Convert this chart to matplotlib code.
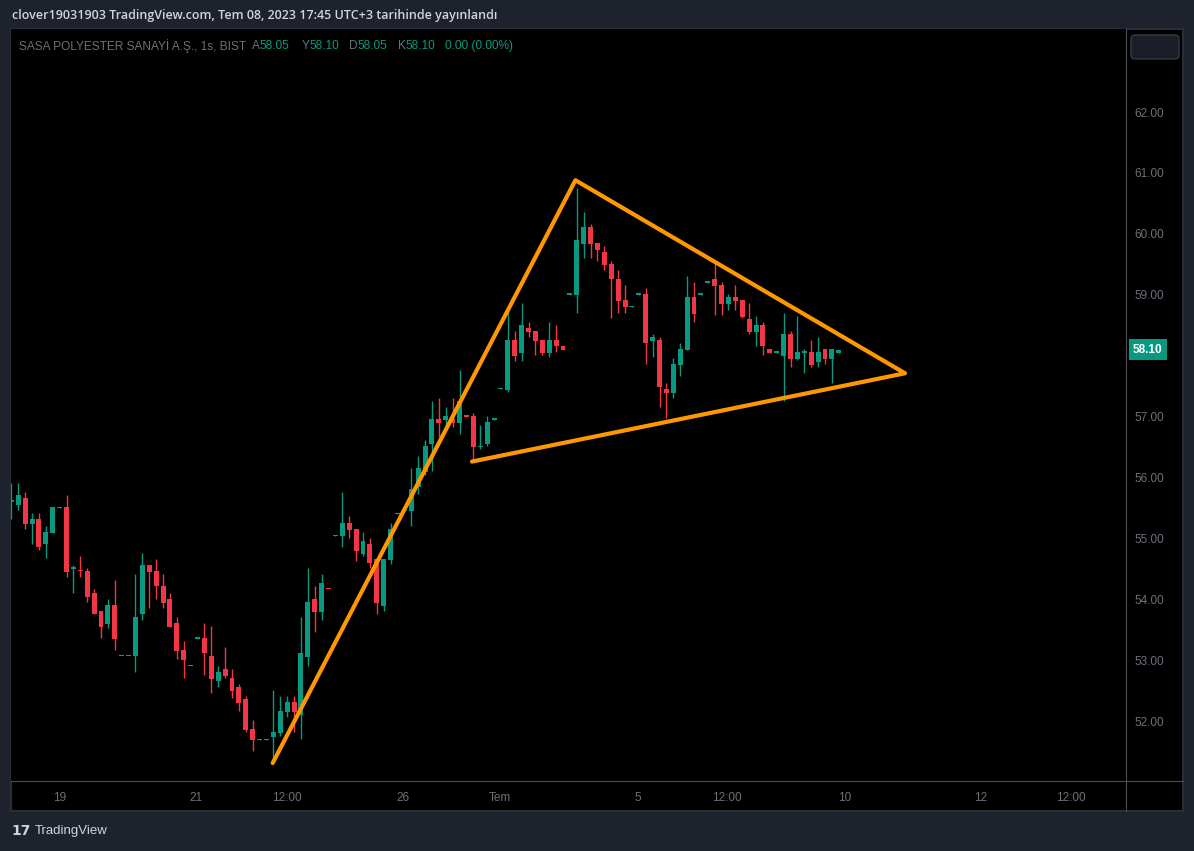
import matplotlib.pyplot as plt
import numpy as np
from matplotlib.patches import Rectangle, FancyBboxPatch
from matplotlib.lines import Line2D

# SASA hourly bars (BIST)
opens = [55.60, 55.55, 55.66, 55.24, 55.32, 54.90, 55.09, 55.50, 55.51, 54.50,
         54.47, 54.46, 54.10, 53.81, 53.60, 53.90, 53.07, 53.06, 53.06, 53.75,
         54.56, 54.46, 54.22, 54.00, 53.61, 53.17, 52.91, 53.35, 53.36, 53.07,
         52.65, 52.85, 52.71, 52.56, 52.36, 51.87, 51.69, 51.69, 51.74, 51.80,
         52.15, 52.31, 52.10, 53.05, 54.00, 53.79, 54.17, 55.04, 55.04, 55.25,
         55.15, 54.75, 54.91, 54.66, 53.89, 54.64, 55.40, 55.45, 55.45, 55.85,
         56.09, 56.55, 56.96, 56.95, 56.96, 56.90, 57.01, 57.01, 56.50, 56.55,
         56.95, 57.45, 57.44, 58.26, 58.05, 58.45, 58.40, 58.26, 58.05, 58.26,
         58.16, 59.00, 59.00, 59.84, 60.11, 59.85, 59.70, 59.50, 59.26, 58.91,
         58.80, 59.00, 59.01, 58.24, 58.26, 57.45, 57.39, 57.85, 58.10, 58.96,
         59.00, 59.20, 59.26, 59.16, 58.85, 58.96, 58.91, 58.60, 58.39, 58.50,
         58.11, 58.05, 58.00, 58.35, 57.95, 58.05, 58.06, 57.90, 58.11, 57.95,
         58.05]
highs = [55.91, 55.91, 55.76, 55.42, 55.42, 55.20, 55.51, 55.51, 55.71, 54.56,
         54.71, 54.51, 54.17, 53.81, 54.00, 54.32, 53.07, 53.07, 54.41, 54.76,
         54.56, 54.66, 54.41, 54.10, 53.71, 53.31, 52.91, 53.36, 53.61, 53.56,
         52.90, 53.22, 52.85, 52.61, 52.41, 52.02, 51.70, 51.70, 52.51, 52.41,
         52.41, 52.41, 53.71, 54.51, 54.22, 54.41, 54.17, 55.05, 55.76, 55.37,
         55.15, 55.10, 55.01, 54.66, 54.66, 55.25, 55.41, 55.46, 56.15, 56.35,
         56.61, 57.25, 57.30, 57.16, 57.30, 57.76, 57.01, 57.06, 56.86, 57.01,
         56.96, 57.46, 58.75, 58.40, 58.86, 58.55, 58.40, 58.26, 58.55, 58.50,
         58.16, 59.01, 60.75, 60.36, 60.16, 59.85, 59.80, 59.55, 59.41, 59.16,
         58.81, 59.01, 59.11, 58.35, 58.31, 57.55, 57.96, 58.21, 59.31, 59.21,
         59.01, 59.21, 59.55, 59.21, 59.01, 59.16, 58.91, 58.86, 58.65, 58.55,
         58.11, 58.06, 58.70, 58.40, 58.65, 58.11, 58.26, 58.31, 58.11, 58.11,
         58.10]
lows = [55.32, 55.47, 55.16, 54.91, 54.81, 54.67, 55.09, 55.50, 54.37, 54.11,
        54.37, 53.96, 53.75, 53.37, 53.52, 53.17, 53.06, 53.06, 52.81, 53.66,
        53.86, 54.01, 53.86, 53.55, 53.02, 52.71, 52.90, 53.35, 52.76, 52.46,
        52.56, 52.71, 52.37, 52.17, 51.82, 51.51, 51.69, 51.69, 51.31, 51.76,
        52.07, 51.82, 51.70, 52.90, 53.46, 53.66, 54.16, 55.04, 54.86, 55.01,
        54.62, 54.71, 54.52, 53.76, 53.81, 54.57, 55.40, 55.45, 55.21, 55.72,
        56.04, 56.11, 56.67, 56.78, 56.82, 56.72, 57.00, 56.26, 56.47, 56.52,
        56.95, 57.45, 57.41, 57.91, 57.91, 58.31, 58.01, 58.01, 57.97, 58.06,
        58.10, 59.00, 58.70, 59.61, 59.61, 59.56, 59.41, 58.61, 58.70, 58.70,
        58.80, 59.00, 57.87, 57.97, 57.16, 56.98, 57.31, 57.67, 58.10, 58.56,
        59.00, 59.20, 58.66, 58.66, 58.75, 58.75, 58.61, 58.36, 58.16, 58.01,
        58.05, 58.05, 57.26, 57.82, 57.92, 57.72, 57.82, 57.82, 57.87, 57.55,
        58.05]
closes = [55.62, 55.71, 55.24, 55.32, 54.85, 55.10, 55.51, 55.51, 54.45, 54.51,
          54.46, 54.04, 53.75, 53.55, 53.90, 53.35, 53.06, 53.07, 53.71, 54.56,
          54.45, 54.21, 53.94, 53.55, 53.15, 53.01, 52.90, 53.36, 53.11, 52.69,
          52.80, 52.74, 52.50, 52.30, 51.86, 51.69, 51.70, 51.70, 51.82, 52.16,
          52.31, 52.15, 53.12, 53.95, 53.79, 54.27, 54.16, 55.05, 55.25, 55.14,
          54.79, 54.96, 54.60, 53.94, 54.66, 55.15, 55.41, 55.46, 55.81, 56.15,
          56.52, 56.96, 56.90, 57.01, 56.90, 57.25, 57.00, 56.50, 56.51, 56.91,
          56.96, 57.46, 58.26, 58.00, 58.50, 58.39, 58.24, 58.05, 58.26, 58.15,
          58.10, 59.01, 59.90, 60.11, 59.84, 59.74, 59.49, 59.25, 58.90, 58.80,
          58.81, 59.01, 58.20, 58.30, 57.49, 57.39, 57.86, 58.11, 58.96, 58.69,
          59.01, 59.21, 59.15, 58.85, 58.96, 58.90, 58.64, 58.39, 58.50, 58.15,
          58.05, 58.06, 58.35, 57.95, 58.06, 58.06, 57.85, 58.06, 57.95, 58.11,
          58.10]

# hand drawn triangle (bar index, price)
pattern_x = [37.9, 81.8, 129.6, 66.8]
pattern_y = [51.31, 60.88, 57.71, 56.26]

price_ticks = [52, 53, 54, 55, 56, 57, 58, 59, 60, 61, 62]
time_labels = ['19', '21', '12:00', '26', 'Tem', '5', '12:00', '10', '12', '12:00']
time_pos = [7.0, 26.8, 39.9, 56.8, 70.9, 90.8, 103.7, 120.8, 140.6, 153.7]

UP = '#089981'
DOWN = '#f23645'
GREY = '#6d707a'

W, H = 1194, 851
fig = plt.figure(figsize=(W / 100, H / 100), dpi=100, facecolor='#1e222d')

def fx(px):
    return px / W

def fy(py):
    return 1 - py / H

# chart panel
fig.patches.append(Rectangle((fx(10.5), fy(811)), fx(1183 - 10.5), (811 - 29) / H,
                             transform=fig.transFigure, facecolor='black',
                             edgecolor='#2a2e39', lw=1.5, zorder=-5))

ax = fig.add_axes([fx(11), fy(781), fx(1126 - 11), (781 - 29) / H])
ax.set_facecolor('black')
for s in ax.spines.values():
    s.set_visible(False)

o = np.array(opens)
c = np.array(closes)
hi = np.array(highs)
lo = np.array(lows)
x = np.arange(len(o))
col = np.where(c >= o, UP, DOWN)

ax.vlines(x, lo, hi, colors=col, lw=1.0, zorder=2)
body_lo = np.minimum(o, c)
body_h = np.maximum(np.abs(c - o), 0.022)
ax.bar(x, body_h, bottom=body_lo, width=0.72, color=col, lw=0, zorder=3)

ax.plot(pattern_x, pattern_y, color='#ff9800', lw=3.0, solid_capstyle='round',
        solid_joinstyle='round', zorder=5)

ax.set_xlim(-0.05, 161.65)
ax.set_ylim(51.015, 63.363)

ax.yaxis.tick_right()
ax.set_yticks(price_ticks, [f'{p:.2f}' for p in price_ticks])
ax.set_xticks(time_pos, time_labels)
ax.tick_params(axis='y', length=0, pad=6, labelsize=8.5, labelcolor=GREY)
ax.tick_params(axis='x', length=0, pad=8, labelsize=8.5, labelcolor=GREY)
for lab in ax.get_xticklabels() + ax.get_yticklabels():
    lab.set_fontfamily('Liberation Sans')

# last price tag
last = closes[-1]
ax.annotate(f'{last:.2f}', xy=(1, last), xycoords=ax.get_yaxis_transform(),
            xytext=(7, 0), textcoords='offset pixels', ha='left', va='center',
            fontsize=8.5, fontweight='bold', color='white', family='Liberation Sans',
            bbox=dict(boxstyle='square,pad=0.35', fc=UP, ec='none'),
            annotation_clip=False, zorder=10)

# axis separators
fig.lines.append(Line2D([fx(1126), fx(1126)], [fy(29), fy(811)], transform=fig.transFigure,
                        color='#4a4d57', lw=0.8))
fig.lines.append(Line2D([fx(11), fx(1183)], [fy(781), fy(781)], transform=fig.transFigure,
                        color='#4a4d57', lw=0.8))

# little box top right of price scale
fig.patches.append(FancyBboxPatch((fx(1131), fy(59)), fx(48), 24 / H,
                                  boxstyle='round,pad=0,rounding_size=0.004',
                                  transform=fig.transFigure, facecolor='#1a1e28',
                                  edgecolor='#363a45', lw=1))

fig.text(fx(12), fy(16), 'clover19031903 TradingView.com, Tem 08, 2023 17:45 UTC+3 tarihinde yayınlandı',
         color='#d1d4dc', fontsize=9, family='Open Sans', fontweight='semibold',
         ha='left', va='center')

# legend line
leg = [(19, 'SASA POLYESTER SANAYİ A.Ş., 1s, BIST', GREY),
       (252, 'A', GREY), (260, '58.05', UP),
       (302, 'Y', GREY), (309, '58.10', UP),
       (349, 'D', GREY), (357, '58.05', UP),
       (398, 'K', GREY), (405, '58.10', UP),
       (445, '0.00 (0.00%)', UP)]
for px, t, cl in leg:
    fig.text(fx(px), fy(46), t, color=cl, fontsize=8.6, family='Liberation Sans',
             ha='left', va='center')

fig.text(fx(11), fy(831), '17', color='#d1d4dc', fontsize=10, fontweight='heavy',
         family='DejaVu Sans', ha='left', va='center')
fig.text(fx(35), fy(831), 'TradingView', color='#d1d4dc', fontsize=9.5,
         family='Liberation Sans', ha='left', va='center')

fig.savefig('out.png', dpi=100, facecolor=fig.get_facecolor())
